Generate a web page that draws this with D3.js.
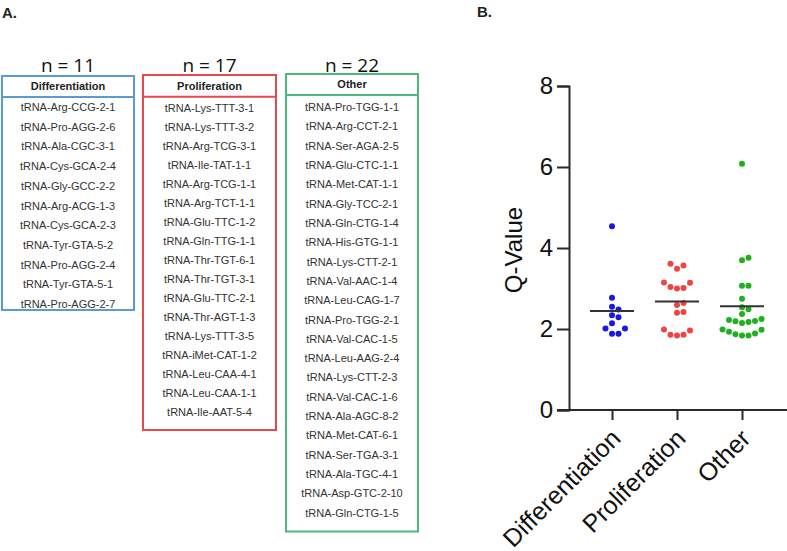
<!DOCTYPE html>
<html>
<head>
<meta charset="utf-8">
<script src="https://cdn.jsdelivr.net/npm/d3@7"></script>
<style>
  html, body { margin: 0; padding: 0; background: #fff; }
  svg { display: block; }
</style>
</head>
<body>
<svg id="chart" width="787" height="551"></svg>
<script>
// ---------------- DATA ----------------
const categories = ["Differentiation", "Proliferation", "Other"];

const differentiationGenes = [
  "tRNA-Arg-CCG-2-1", "tRNA-Pro-AGG-2-6", "tRNA-Ala-CGC-3-1", "tRNA-Cys-GCA-2-4",
  "tRNA-Gly-GCC-2-2", "tRNA-Arg-ACG-1-3", "tRNA-Cys-GCA-2-3", "tRNA-Tyr-GTA-5-2",
  "tRNA-Pro-AGG-2-4", "tRNA-Tyr-GTA-5-1", "tRNA-Pro-AGG-2-7"
];
const proliferationGenes = [
  "tRNA-Lys-TTT-3-1", "tRNA-Lys-TTT-3-2", "tRNA-Arg-TCG-3-1", "tRNA-Ile-TAT-1-1",
  "tRNA-Arg-TCG-1-1", "tRNA-Arg-TCT-1-1", "tRNA-Glu-TTC-1-2", "tRNA-Gln-TTG-1-1",
  "tRNA-Thr-TGT-6-1", "tRNA-Thr-TGT-3-1", "tRNA-Glu-TTC-2-1", "tRNA-Thr-AGT-1-3",
  "tRNA-Lys-TTT-3-5", "tRNA-iMet-CAT-1-2", "tRNA-Leu-CAA-4-1", "tRNA-Leu-CAA-1-1",
  "tRNA-Ile-AAT-5-4"
];
const otherGenes = [
  "tRNA-Pro-TGG-1-1", "tRNA-Arg-CCT-2-1", "tRNA-Ser-AGA-2-5", "tRNA-Glu-CTC-1-1",
  "tRNA-Met-CAT-1-1", "tRNA-Gly-TCC-2-1", "tRNA-Gln-CTG-1-4", "tRNA-His-GTG-1-1",
  "tRNA-Lys-CTT-2-1", "tRNA-Val-AAC-1-4", "tRNA-Leu-CAG-1-7", "tRNA-Pro-TGG-2-1",
  "tRNA-Val-CAC-1-5", "tRNA-Leu-AAG-2-4", "tRNA-Lys-CTT-2-3", "tRNA-Val-CAC-1-6",
  "tRNA-Ala-AGC-8-2", "tRNA-Met-CAT-6-1", "tRNA-Ser-TGA-3-1", "tRNA-Ala-TGC-4-1",
  "tRNA-Asp-GTC-2-10", "tRNA-Gln-CTG-1-5"
];

// Q-values
const differentiationQ = [4.54, 2.77, 2.55, 2.48, 2.34, 2.29, 2.14, 2.01, 2.01, 1.88, 1.88];
const proliferationQ = [3.61, 3.57, 3.49, 3.15, 3.14, 3.04, 3.01, 3.00, 2.64, 2.59, 2.42, 2.40,
                        1.99, 1.96, 1.86, 1.86, 1.84];
const otherQ = [6.08, 3.76, 3.70, 3.07, 3.07, 2.75, 2.54, 2.49, 2.37, 2.25, 2.22, 2.20, 2.19,
                2.17, 2.15, 1.99, 1.98, 1.93, 1.89, 1.87, 1.84, 1.84];

const yTicks = [0, 2, 4, 6, 8];

// ---------------- STYLE / LAYOUT ----------------
const pointColors = ["#1717e6", "#f04444", "#1fb01f"];
const boxColors = ["#5b9bd5", "#e6484b", "#4cba7c"];
const boxes = [
  { x0: 2, x1: 134, top: 76, head: 97, bottom: 310, first: 107.3, last: 304.0 },
  { x0: 143, x1: 276, top: 75, head: 96.7, bottom: 430, first: 107.7, last: 411.7 },
  { x0: 286, x1: 418, top: 74, head: 95, bottom: 531.5, first: 107.3, last: 512.7 }
];
const genesByCat = [differentiationGenes, proliferationGenes, otherGenes];
const qByCat = [differentiationQ, proliferationQ, otherQ];

const svg = d3.select("#chart");
const textFont = "'Liberation Sans', Arial, sans-serif";

// Panel labels
svg.append("text").attr("x", 2).attr("y", 18).text("A.")
  .attr("font-family", textFont).attr("font-weight", "bold").attr("font-size", 15).attr("fill", "#222");
svg.append("text").attr("x", 477).attr("y", 17).text("B.")
  .attr("font-family", textFont).attr("font-weight", "bold").attr("font-size", 15).attr("fill", "#222");

// ---------------- PANEL A: gene lists ----------------
boxes.forEach((b, i) => {
  const g = svg.append("g");
  const cx = (b.x0 + b.x1) / 2;
  g.append("text").attr("x", cx).attr("y", 72).attr("text-anchor", "middle")
    .attr("font-family", "'Open Sans', 'Noto Sans', sans-serif").attr("font-size", 19).attr("fill", "#111")
    .text("n = " + genesByCat[i].length);
  g.append("rect").attr("x", b.x0).attr("y", b.top).attr("width", b.x1 - b.x0).attr("height", b.bottom - b.top)
    .attr("fill", "none").attr("stroke", boxColors[i]).attr("stroke-width", 2);
  g.append("line").attr("x1", b.x0).attr("x2", b.x1).attr("y1", b.head).attr("y2", b.head)
    .attr("stroke", boxColors[i]).attr("stroke-width", 2);
  g.append("text").attr("x", cx).attr("y", (b.top + b.head) / 2).attr("dy", "0.35em")
    .attr("text-anchor", "middle").attr("font-family", textFont).attr("font-weight", "bold")
    .attr("font-size", 11).attr("fill", "#222").text(categories[i]);
  const rowY = d3.scalePoint().domain(genesByCat[i]).range([b.first, b.last]);
  g.selectAll("text.gene").data(genesByCat[i]).join("text").attr("class", "gene")
    .attr("x", cx).attr("y", d => rowY(d)).attr("dy", "0.35em").attr("text-anchor", "middle")
    .attr("font-family", textFont).attr("font-size", 11).attr("fill", "#333").text(d => d);
});

// ---------------- PANEL B: scatter ----------------
const yAxisX = 569, xEnd = 787;
const y = d3.scaleLinear().domain([0, 8]).range([410, 86]);
const x = d3.scalePoint().domain(categories).range([612, 742]);

const axisColor = "#2a2a2a";
const gy = svg.append("g").attr("transform", `translate(${yAxisX},0)`)
  .call(d3.axisLeft(y).tickValues(yTicks).tickSize(12).tickPadding(4).tickFormat(d3.format("d")));
gy.select(".domain").attr("stroke", axisColor).attr("stroke-width", 2);
gy.selectAll(".tick line").attr("stroke", axisColor).attr("stroke-width", 2);
gy.selectAll(".tick text").attr("font-family", textFont).attr("font-size", 24).attr("fill", "#111");

const gx = svg.append("g").attr("transform", `translate(0,${y(0)})`)
  .call(d3.axisBottom(x).tickSize(10).tickSizeOuter(0).tickFormat(""));
gx.select(".domain").attr("d", `M${yAxisX - 12},0H${xEnd}`).attr("stroke", axisColor).attr("stroke-width", 2);
gx.selectAll(".tick line").attr("stroke", axisColor).attr("stroke-width", 2);

svg.append("g").selectAll("text").data(categories).join("text")
  .attr("transform", d => `translate(${x(d) + 10},${y(0) + 30}) rotate(-45)`)
  .attr("text-anchor", "end").attr("font-family", textFont).attr("font-size", 25).attr("fill", "#111")
  .text(d => d);

svg.append("text").attr("transform", `translate(522,${(y(0) + y(8)) / 2 + 2}) rotate(-90)`)
  .attr("text-anchor", "middle").attr("font-family", textFont).attr("font-size", 24).attr("fill", "#111")
  .text("Q-Value");

// Beeswarm-like horizontal dodge (greedy)
const r = 3, step = 6.5;
categories.forEach((c, i) => {
  const vals = qByCat[i].slice().sort((a, b) => a - b);
  const placed = [];
  vals.forEach(v => {
    const py = y(v);
    const offsets = [0, 1, -1, 2, -2, 3, -3];
    for (const k of offsets) {
      const px = x(c) + k * step;
      const clash = placed.some(p => Math.hypot(p.x - px, p.y - py) < 2 * r + 0.2);
      if (!clash) { placed.push({ x: px, y: py }); break; }
    }
  });
  svg.append("g").selectAll("circle").data(placed).join("circle")
    .attr("cx", d => d.x).attr("cy", d => d.y).attr("r", r).attr("fill", pointColors[i]);
  const mean = d3.mean(qByCat[i]);
  svg.append("line").attr("x1", x(c) - 22).attr("x2", x(c) + 22)
    .attr("y1", y(mean)).attr("y2", y(mean)).attr("stroke", "#333").attr("stroke-width", 2);
});
</script>
</body>
</html>
